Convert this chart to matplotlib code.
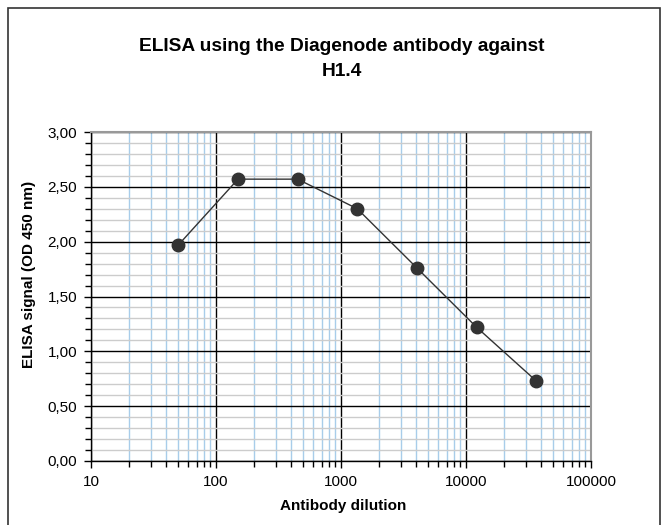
import matplotlib
matplotlib.use('Agg')
import matplotlib.pyplot as plt
from matplotlib.patches import Rectangle
from matplotlib.ticker import LogLocator, MultipleLocator, FuncFormatter
import numpy as np

# antibody dilution series and ELISA signal
dilution = [50, 150, 450, 1350, 4050, 12150, 36450]
signal = [1.97, 2.57, 2.57, 2.30, 1.76, 1.22, 0.73]

title = 'ELISA using the Diagenode antibody against\nH1.4'
x_label = 'Antibody dilution'
y_label = 'ELISA signal (OD 450 nm)'

plt.rcParams['font.family'] = ['Liberation Sans', 'DejaVu Sans']

fig = plt.figure(figsize=(6.66, 5.25), dpi=100)
fig.patches.append(Rectangle((8 / 666, -0.05), 652 / 666, 1.05 - 8 / 525,
                             transform=fig.transFigure, fill=False,
                             edgecolor='#333333', linewidth=1.2))

ax = fig.add_axes([91 / 666, 1 - 461 / 525, 500 / 666, 329 / 525])
ax.set_xscale('log')
ax.set_xlim(10, 100000)
ax.set_ylim(0, 3)

ax.xaxis.set_major_locator(LogLocator(base=10, numticks=10))
ax.xaxis.set_minor_locator(LogLocator(base=10, subs=np.arange(2, 10), numticks=10))
ax.xaxis.set_major_formatter(FuncFormatter(lambda v, p: f'{v:.0f}'))
ax.xaxis.set_minor_formatter(FuncFormatter(lambda v, p: ''))
ax.yaxis.set_major_locator(MultipleLocator(0.5))
ax.yaxis.set_minor_locator(MultipleLocator(0.1))
ax.yaxis.set_major_formatter(FuncFormatter(lambda v, p: f'{v:.2f}'.replace('.', ',')))

ax.grid(which='minor', axis='x', color='#a8cdea', linewidth=1.0)
ax.grid(which='minor', axis='y', color='#cccccc', linewidth=1.0)
ax.grid(which='major', color='black', linewidth=1.0)
ax.set_axisbelow(True)

ax.tick_params(which='both', direction='out', labelsize=11, colors='black', pad=5)
ax.tick_params(which='major', length=5, width=1)
ax.tick_params(which='minor', length=4, width=1)

for side in ['top', 'right']:
    ax.spines[side].set_color('#999999')
    ax.spines[side].set_linewidth(1.5)
for side in ['left', 'bottom']:
    ax.spines[side].set_color('black')
    ax.spines[side].set_linewidth(1.0)

ax.plot(dilution, signal, color='#333333', linewidth=1.0, marker='o',
        markersize=9, markerfacecolor='#333333', markeredgecolor='#333333',
        zorder=5, clip_on=False)

ax.set_xlabel(x_label, fontsize=11, fontweight='bold', va='center')
ax.xaxis.set_label_coords(0.504, -0.137)
ax.set_ylabel(y_label, fontsize=11, fontweight='bold', va='center')
ax.yaxis.set_label_coords(-0.124, 0.568)
fig.text(342 / 666, 1 - 59 / 525, title, ha='center', va='center',
         fontsize=13.8, fontweight='bold', linespacing=1.6)

fig.savefig('out.png', dpi=100)
